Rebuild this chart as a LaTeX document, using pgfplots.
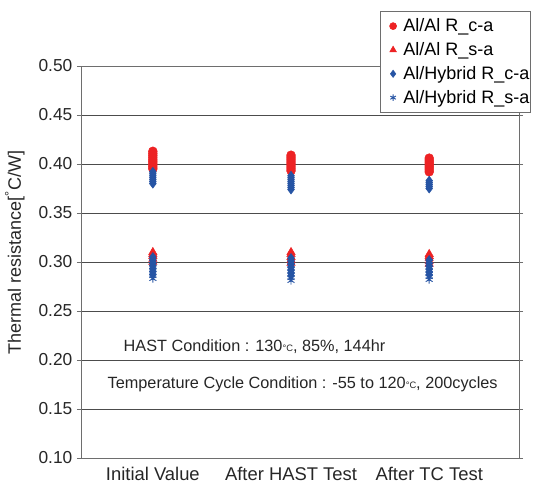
\documentclass[border=0pt]{standalone}
\usepackage{fontspec}
\setmainfont{Liberation Sans}
\usepackage{pgfplots}
\pgfplotsset{compat=1.18}
\definecolor{myred}{RGB}{237,34,36}
\definecolor{myblue}{RGB}{38,84,164}
\definecolor{frame}{RGB}{110,110,110}
\newcommand{\legbox}[1]{\makebox[89pt][l]{\hspace{3pt}#1}}
\begin{document}
\begin{tikzpicture}
\useasboundingbox (-60.75pt,-18pt) rectangle (343.5pt,343.5pt);
\begin{axis}[
  scale only axis,
  width=328.5pt, height=294pt,
  xmin=-0.52, xmax=2.65,
  ymin=0.10, ymax=0.50,
  ytick={0.10,0.15,...,0.50},
  yticklabel style={/pgf/number format/fixed,/pgf/number format/fixed zerofill,/pgf/number format/precision=2, font=\fontsize{13}{15}\selectfont},
  /pgf/number format/assume math mode=true,
  xtick={0,1,2},
  xticklabels={Initial Value, After HAST Test, After TC Test},
  xticklabel style={font=\fontsize{13.8}{16}\selectfont},
  major x tick style={draw=none},
  ytick style={frame, line width=0.6pt},
  tick align=outside,
  major tick length=3pt,
  ymajorgrids,
  grid style={black!70, line width=0.7pt},
  axis line style={frame, line width=0.7pt},
  tick label style={text=black!85},
  ylabel={Thermal resistance[\textsuperscript{°}C/W]},
  every axis y label/.style={at={(axis description cs:-0.151,0.525)}, rotate=90, anchor=center, font=\fontsize{13.5}{16}\selectfont, text=black!85},
  legend style={at={(axis description cs:0.6826,1.1403)}, anchor=north west, draw=frame, fill=white,
     font=\fontsize{13.5}{16}\selectfont, row sep=2.6pt, inner xsep=7pt, inner ysep=3.5pt,
     cells={anchor=west}},
  legend image post style={scale=0.8},
  legend cell align=left,
  clip=false,
]
\addplot[only marks, mark=*, mark size=3.3pt, color=myred, mark options={draw=myred, fill=myred}] coordinates {
(0,0.395)(0,0.397)(0,0.399)(0,0.401)(0,0.403)(0,0.405)(0,0.407)(0,0.409)(0,0.411)(0,0.413)
(1,0.393)(1,0.395)(1,0.397)(1,0.399)(1,0.401)(1,0.403)(1,0.405)(1,0.407)(1,0.409)
(2,0.392)(2,0.394)(2,0.396)(2,0.398)(2,0.400)(2,0.402)(2,0.404)(2,0.406)
};
\addlegendentry{\legbox{Al/Al R\_c-a}}
\addplot[only marks, mark=triangle*, mark size=3.6pt, color=myred, mark options={draw=myred, fill=myred}] coordinates {
(0,0.300)(0,0.303)(0,0.306)(0,0.308)(0,0.310)
(1,0.299)(1,0.302)(1,0.305)(1,0.308)(1,0.310)
(2,0.298)(2,0.301)(2,0.304)(2,0.306)(2,0.308)
};
\addlegendentry{\legbox{Al/Al R\_s-a}}
\addplot[only marks, mark=diamond*, mark size=3.4pt, color=myblue, mark options={draw=myblue, fill=myblue}] coordinates {
(0,0.380)(0,0.382)(0,0.384)(0,0.386)(0,0.388)(0,0.390)(0,0.392)
(1,0.374)(1,0.376)(1,0.378)(1,0.380)(1,0.382)(1,0.384)(1,0.386)(1,0.388)
(2,0.375)(2,0.377)(2,0.379)(2,0.381)(2,0.383)
(0,0.287)(0,0.290)(0,0.293)(0,0.296)(0,0.299)(0,0.302)(0,0.305)
(1,0.286)(1,0.289)(1,0.292)(1,0.295)(1,0.298)(1,0.301)(1,0.304)
(2,0.287)(2,0.290)(2,0.293)(2,0.296)(2,0.299)(2,0.302)
};
\addlegendentry{\legbox{Al/Hybrid R\_c-a}}
\addplot[only marks, mark=asterisk, mark size=3pt, color=myblue, mark options={draw=myblue, line width=0.7pt}] coordinates {
(0,0.283)(0,0.286)(0,0.289)(0,0.292)(0,0.295)(0,0.298)(0,0.301)
(1,0.281)(1,0.284)(1,0.287)(1,0.290)(1,0.293)(1,0.296)(1,0.300)
(2,0.282)(2,0.285)(2,0.288)(2,0.291)(2,0.294)(2,0.297)(2,0.300)
};
\addlegendentry{\legbox{Al/Hybrid R\_s-a}}
\node[anchor=west, font=\fontsize{12.2}{14}\selectfont, text=black!85] at (axis description cs:0.0868,0.283) {HAST Condition : 130{\scriptsize °C}, 85\%, 144hr};
\node[anchor=west, font=\fontsize{12.2}{14}\selectfont, text=black!85] at (axis description cs:0.0502,0.189) {Temperature Cycle Condition : -55 to 120{\scriptsize °C}, 200cycles};
\end{axis}
\end{tikzpicture}
\end{document}
